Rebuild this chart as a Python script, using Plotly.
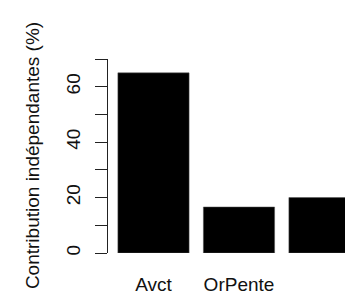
import plotly.graph_objects as go

categories = ["Avct", "OrPente", "Autre"]
contributions = [65.0, 16.6, 20.0]
x_tick_labels = ["Avct", "OrPente"]
y_tick_vals = [0, 10, 20, 30, 40, 50, 60, 70]
y_tick_text = ["0", "", "20", "", "40", "", "60", ""]
y_title = "Contribution indépendantes (%)"

FONT = "Liberation Sans, Arial, sans-serif"
positions = list(range(len(categories)))

fig = go.Figure(
    go.Bar(
        x=positions,
        y=contributions,
        width=0.833,
        marker=dict(color="black", line=dict(color="#555555", width=0.5)),
        hovertext=categories,
    )
)

fig.update_layout(
    width=353,
    height=300,
    margin=dict(l=100, r=0, t=51, b=55),
    paper_bgcolor="white",
    plot_bgcolor="white",
    showlegend=False,
    font=dict(family=FONT, size=19, color="#111111"),
)

fig.update_xaxes(
    range=[-0.532, 2.427],
    tickmode="array",
    tickvals=positions[: len(x_tick_labels)],
    ticktext=x_tick_labels,
    showline=False,
    showgrid=False,
    zeroline=False,
    ticks="",
    ticklabelstandoff=18,
    tickfont=dict(family=FONT, size=19, color="#111111"),
)

fig.update_yaxes(
    range=[0, 70],
    tickmode="array",
    tickvals=y_tick_vals,
    ticktext=y_tick_text,
    tickangle=-90,
    showline=True,
    linecolor="#222222",
    linewidth=1,
    ticks="outside",
    ticklen=12,
    tickwidth=1,
    tickcolor="#222222",
    ticklabelstandoff=7,
    showgrid=False,
    zeroline=False,
    tickfont=dict(family=FONT, size=19, color="#111111"),
)

fig.add_annotation(
    text=y_title,
    xref="paper",
    yref="paper",
    x=-0.3,
    y=0.5,
    xanchor="center",
    yanchor="middle",
    textangle=-90,
    showarrow=False,
    font=dict(family=FONT, size=19, color="#111111"),
)

fig.write_html("out.html")
